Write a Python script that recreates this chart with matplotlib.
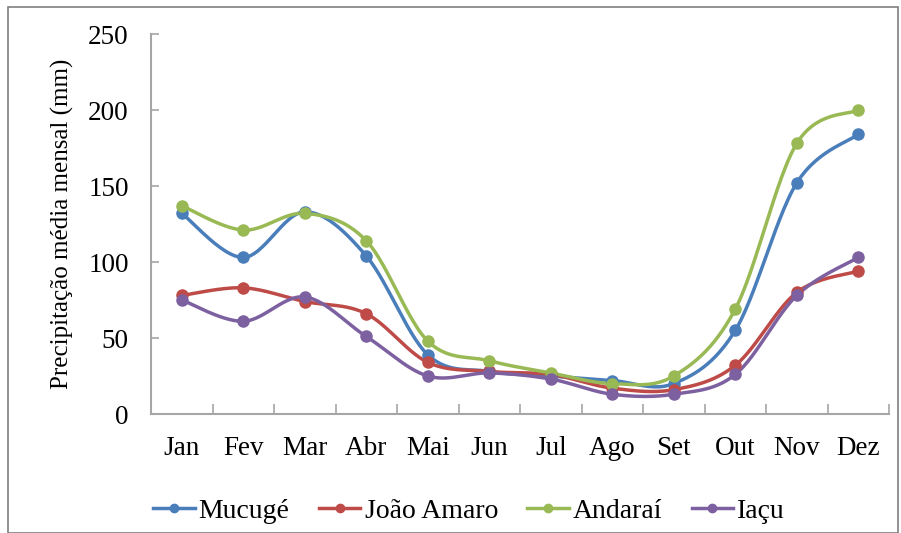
import matplotlib.pyplot as plt
import numpy as np
from matplotlib.patches import Rectangle

plt.rcParams['font.family'] = ['Liberation Serif', 'DejaVu Serif']

months = ['Jan', 'Fev', 'Mar', 'Abr', 'Mai', 'Jun', 'Jul', 'Ago', 'Set', 'Out', 'Nov', 'Dez']
mucuge = [132, 103, 133, 104, 39, 28, 25, 22, 20, 55, 152, 184]
joao_amaro = [78, 83, 74, 66, 34, 28, 26, 17, 16, 32, 80, 94]
andarai = [137, 121, 132, 114, 48, 35, 27, 20, 25, 69, 178, 200]
iacu = [75, 61, 77, 51, 25, 27, 23, 13, 13, 26, 78, 103]

series = [('Mucugé', mucuge, '#4A7EBB'),
          ('João Amaro', joao_amaro, '#BE4B48'),
          ('Andaraí', andarai, '#98B954'),
          ('Iaçu', iacu, '#7D60A0')]


def smooth(x, y, n=30):
    # Excel-style smoothed line: cubic Bezier with Catmull-Rom control points
    x = np.asarray(x, float)
    y = np.asarray(y, float)
    px = np.concatenate([[x[0]], x, [x[-1]]])
    py = np.concatenate([[y[0]], y, [y[-1]]])
    xs, ys = [], []
    t = np.linspace(0, 1, n)
    for i in range(len(x) - 1):
        p0 = np.array([px[i + 1], py[i + 1]])
        p3 = np.array([px[i + 2], py[i + 2]])
        p1 = p0 + (np.array([px[i + 2], py[i + 2]]) - np.array([px[i], py[i]])) / 6
        p2 = p3 - (np.array([px[i + 3], py[i + 3]]) - np.array([px[i + 1], py[i + 1]])) / 6
        b = ((1 - t) ** 3)[:, None] * p0 + (3 * (1 - t) ** 2 * t)[:, None] * p1 \
            + (3 * (1 - t) * t ** 2)[:, None] * p2 + (t ** 3)[:, None] * p3
        xs.extend(b[:, 0])
        ys.extend(b[:, 1])
    return np.array(xs), np.array(ys)


fig = plt.figure(figsize=(9.01, 5.33), dpi=100)
ax = fig.add_axes([151 / 901, 119 / 533, 738 / 901, 380 / 533])

x = np.arange(len(months))
for name, vals, color in series:
    sx, sy = smooth(x, vals)
    ax.plot(sx, sy, color=color, lw=2.5, zorder=2)
    ax.plot(x, vals, 'o', color=color, ms=8, zorder=3)
    ax.plot([], [], '-o', color=color, lw=2.5, ms=6, label=name)

ax.set_xlim(-0.5, 11.5)
ax.set_ylim(0, 250)
ax.set_yticks([0, 50, 100, 150, 200, 250])
ax.set_xticks(x)
ax.set_xticklabels(months)
ax.set_xticks(np.arange(-0.5, 12, 1), minor=True)
ax.tick_params(axis='x', which='major', length=0, pad=16, labelsize=19.5)
ax.tick_params(axis='x', which='minor', length=7, direction='in', color='#A6A6A6', width=1.2)
ax.tick_params(axis='y', length=6, direction='in', color='#A6A6A6', width=1.2,
               labelsize=19.5, pad=16)
for s in ['top', 'right']:
    ax.spines[s].set_visible(False)
for s in ['left', 'bottom']:
    ax.spines[s].set_color('#A6A6A6')
    ax.spines[s].set_linewidth(1.5)
ax.set_ylabel('Precipitação média mensal (mm)', fontsize=18, labelpad=10)

fig.legend(loc='center', bbox_to_anchor=(469 / 901, 22 / 533), ncol=4, frameon=False,
           prop={'family': ['Liberation Serif'], 'size': 20},
           handlelength=1.5, columnspacing=1.05, handletextpad=0.15)

fig.patches.append(Rectangle((8 / 901, 0), 890 / 901, 526 / 533, transform=fig.transFigure,
                             fill=False, edgecolor='#7F7F7F', lw=1.2))

fig.savefig('out.png', dpi=100)
